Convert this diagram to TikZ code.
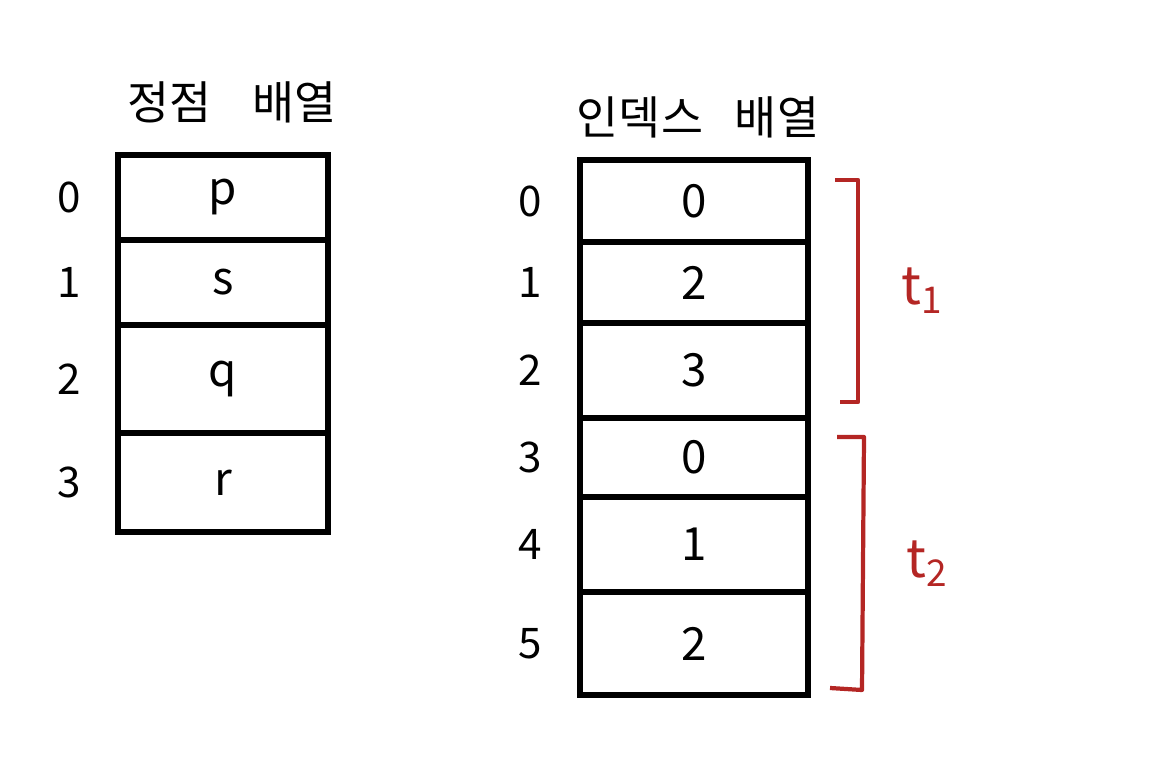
\documentclass[tikz,border=0pt]{standalone}
\usepackage{fontspec}
\setmainfont{Noto Sans CJK KR}
\usetikzlibrary{positioning}
\definecolor{markred}{RGB}{180,38,36}

\begin{document}
\begin{tikzpicture}[
    cell/.style={rectangle, draw, line width=1.5pt, outer sep=0pt, inner sep=0pt, text centered, font=\fontsize{13}{15}\selectfont},
    vcell/.style={cell, minimum width=2.10cm},
    icell/.style={cell, minimum width=2.28cm},
    idx/.style={font=\fontsize{12}{14}\selectfont, inner sep=1pt},
    title/.style={font=\fontsize{13}{16}\selectfont},
    brace/.style={draw=markred, line width=1.2pt, line join=round},
    tlabel/.style={text=markred, font=\fontsize{15}{18}\selectfont, right=0.3cm}]

\useasboundingbox (0,0) rectangle (11.61,-7.60);

% Vertex array
\node[title] (vtitle) at (2.32,-1.02) {정점\hspace{0.9em}배열};
\node[vcell, minimum height=0.85cm] (v0) at (2.23,-1.975) {p};
\node[vcell, minimum height=0.85cm, below=0pt of v0] (v1) {s};
\node[vcell, minimum height=1.08cm, below=0pt of v1] (v2) {q};
\node[vcell, minimum height=0.99cm, below=0pt of v2] (v3) {r};

\node[idx, left=0.33cm of v0] (vi0) {0};
\node[idx, left=0.33cm of v1] (vi1) {1};
\node[idx, left=0.33cm of v2] (vi2) {2};
\node[idx, left=0.33cm of v3] (vi3) {3};

% Index array
\node[title] (ititle) at (6.98,-1.17) {인덱스\hspace{0.7em}배열};
\node[icell, minimum height=0.82cm] (i0) at (6.94,-2.01) {0};
\node[icell, minimum height=0.81cm, below=0pt of i0] (i1) {2};
\node[icell, minimum height=0.95cm, below=0pt of i1] (i2) {3};
\node[icell, minimum height=0.79cm, below=0pt of i2] (i3) {0};
\node[icell, minimum height=0.95cm, below=0pt of i3] (i4) {1};
\node[icell, minimum height=1.03cm, below=0pt of i4] (i5) {2};

\node[idx, left=0.34cm of i0] (ii0) {0};
\node[idx, left=0.34cm of i1] (ii1) {1};
\node[idx, left=0.34cm of i2] (ii2) {2};
\node[idx, left=0.34cm of i3] (ii3) {3};
\node[idx, left=0.34cm of i4] (ii4) {4};
\node[idx, left=0.34cm of i5] (ii5) {5};

% Triangles
\draw[brace] (8.35,-1.80) -- (8.58,-1.80) -- node[tlabel] (t1) {t\textsubscript{1}} (8.58,-4.02) -- (8.40,-4.02);
\draw[brace] (8.37,-4.37) -- (8.64,-4.37) -- node[tlabel] (t2) {t\textsubscript{2}} (8.62,-6.90) -- (8.30,-6.88);

\end{tikzpicture}
\end{document}
